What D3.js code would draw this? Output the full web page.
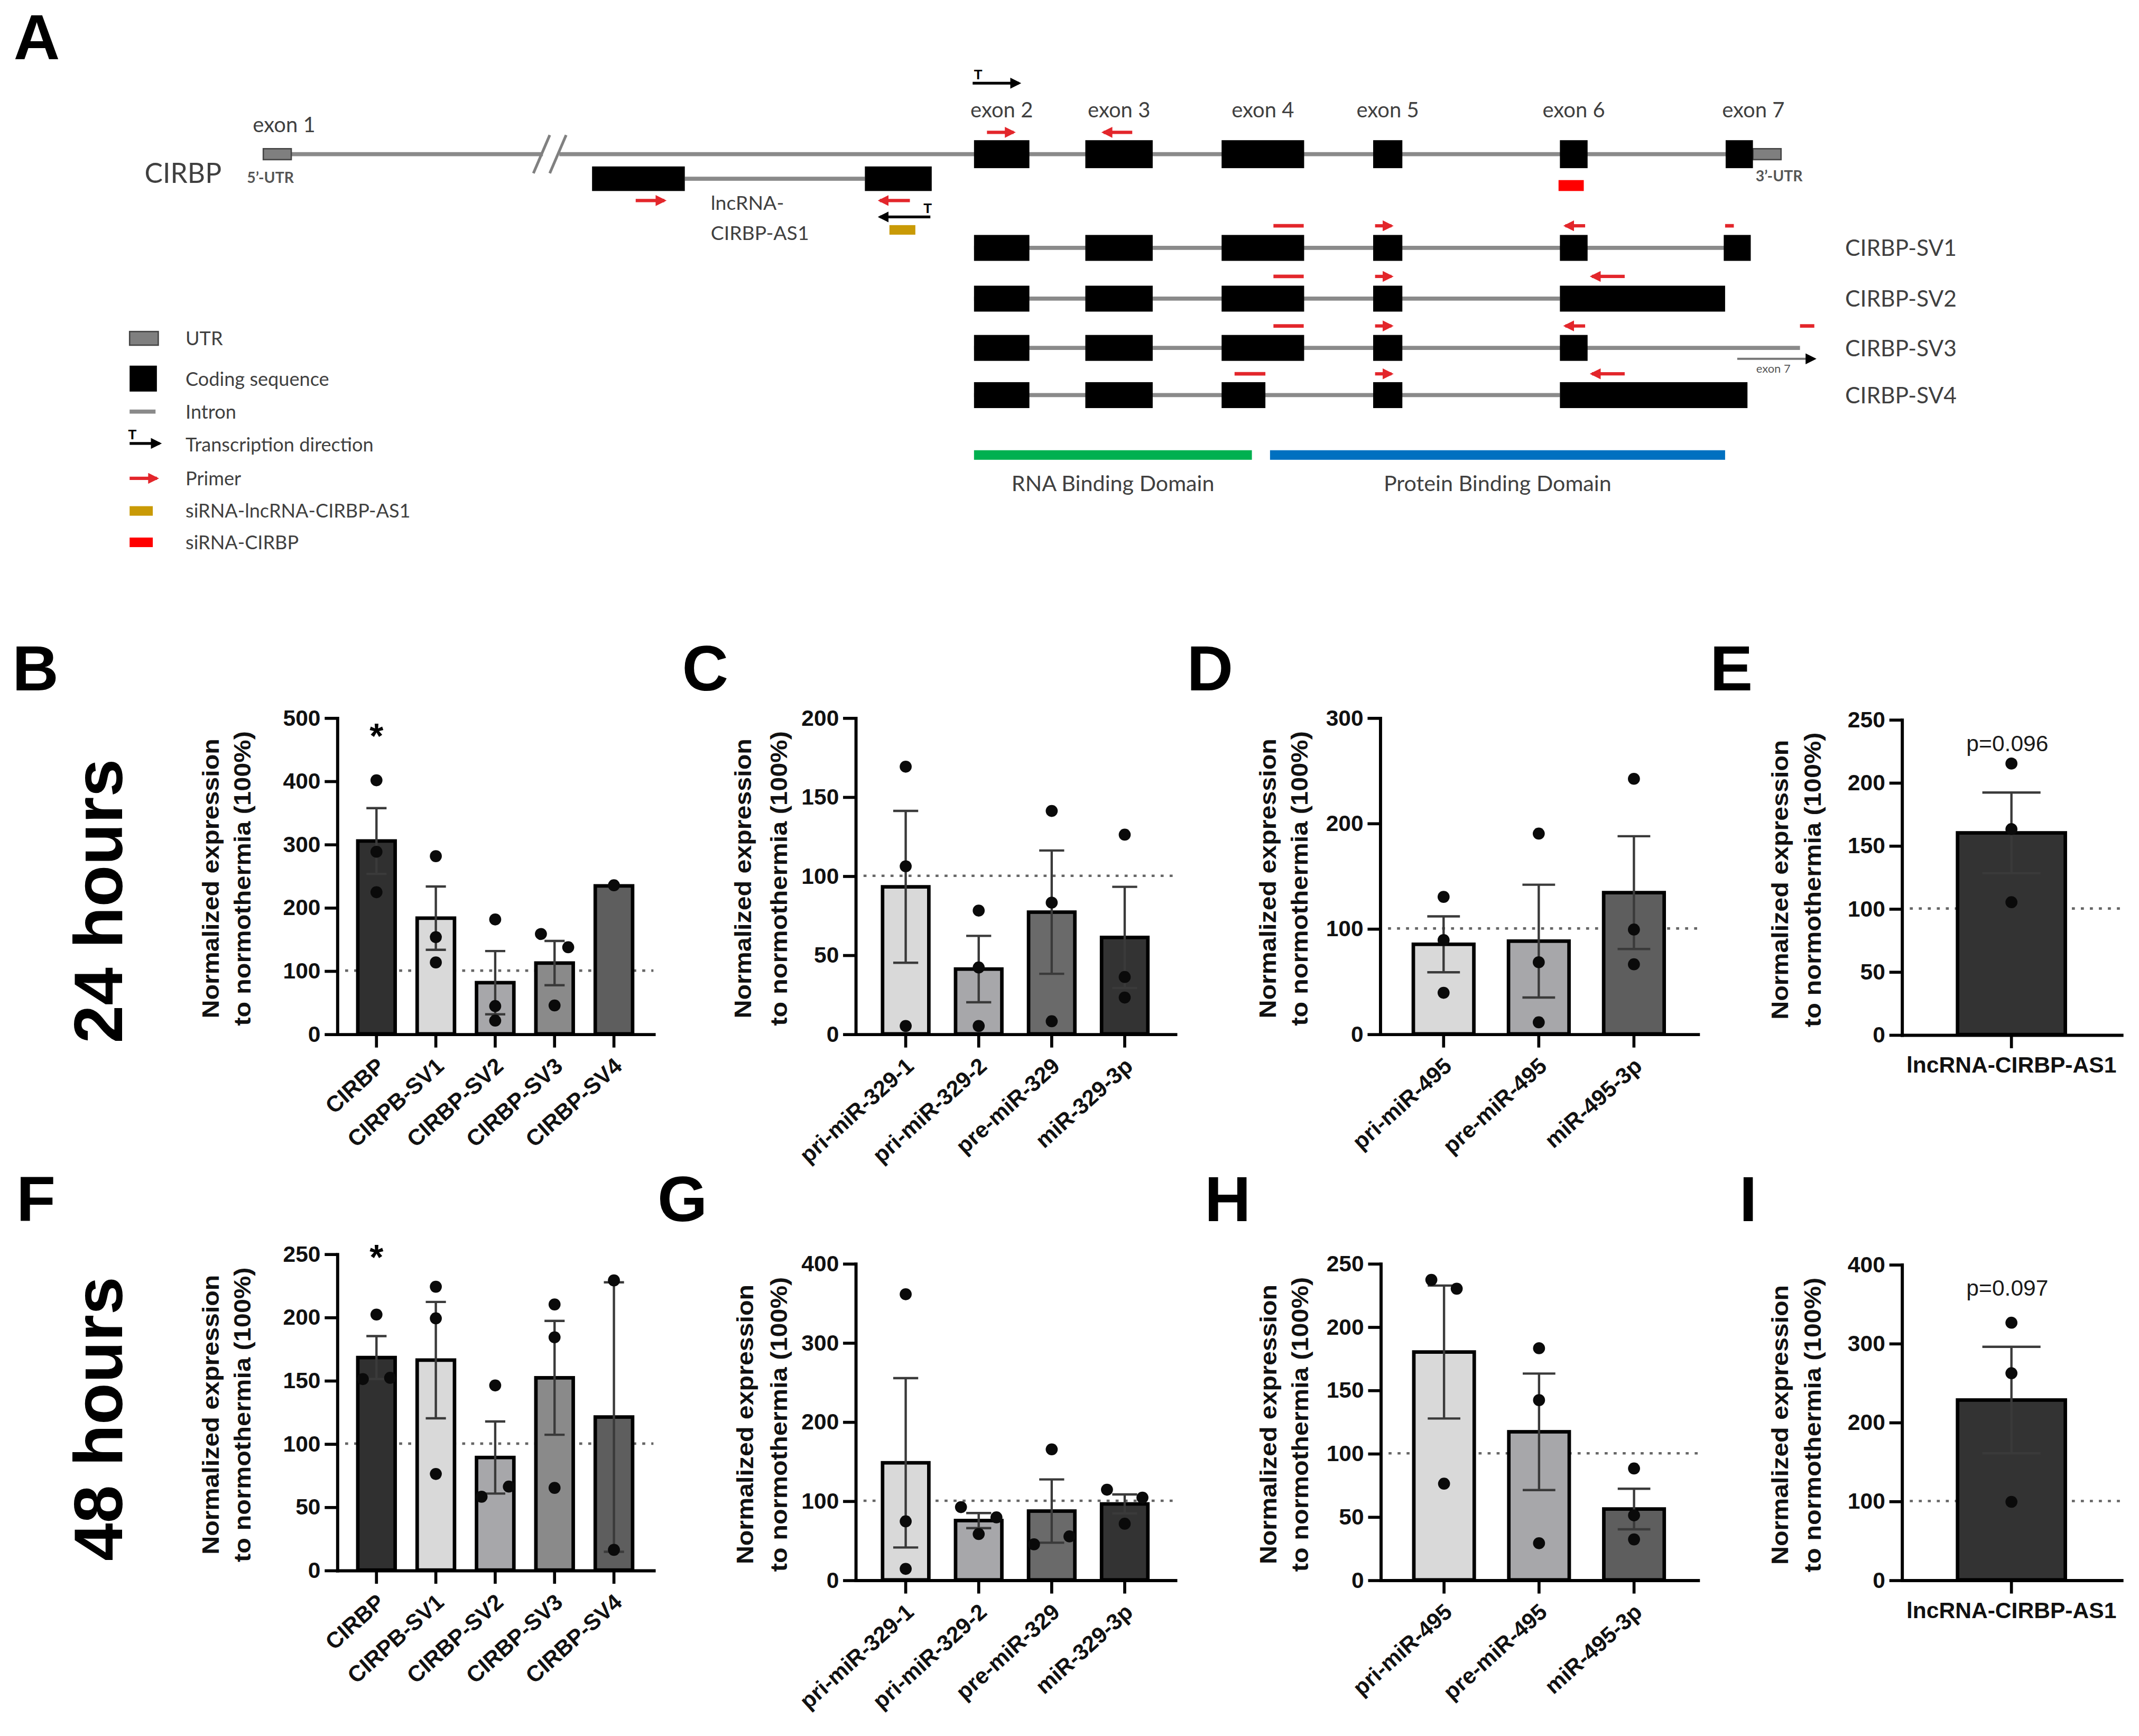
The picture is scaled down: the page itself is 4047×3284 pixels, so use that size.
<!DOCTYPE html>
<html><head><meta charset="utf-8">
<script src="https://cdn.jsdelivr.net/npm/d3@7"></script>
<style>body{margin:0;background:#fff}svg{display:block}</style>
</head><body>
<script>
// ================= DATA =================
// ---- Panel A : gene diagram (positions in relative gene units, 0 = start of exon 1) ----
const exonNames = ["exon 1","exon 2","exon 3","exon 4","exon 5","exon 6","exon 7"];
const cirbpUTR = [[3,23.5],[1095,1115.6]];
const cirbpExons = [[524,564.6],[605.6,655],[705.5,766],[816.6,838],[953.5,973.8],[1075,1095]];
const cirbpIntron = [[13,208],[220,1095]];
const cirbpBreak = [207,219];
const cirbpPrimers = [[533.5,553,1],[619,640,-1]];
const cirbpSiRNA = [952.5,971];
const lncName = ["lncRNA-","CIRBP-AS1"];
const lncExons = [[244,312],[444,493]];
const lncPrimers = [[276,297,1],[455,477,-1]];
const lncSiRNA = [462,481];
const isoformNames = ["CIRBP-SV1","CIRBP-SV2","CIRBP-SV3","CIRBP-SV4"];
const isoformExons = [
  [[524,564.6],[605.6,655],[705.5,766],[816.6,838],[953.5,973.8],[1073.6,1093.4]],
  [[524,564.6],[605.6,655],[705.5,766],[816.6,838],[953.5,1074.6]],
  [[524,564.6],[605.6,655],[705.5,766],[816.6,838],[953.5,973.8]],
  [[524,564.6],[605.6,655],[705.5,737.6],[816.6,838],[953.5,1091]]
];
const isoformSpan = [[524,1093],[524,953.5],[524,1129.5],[524,953.5]];
const isoformPrimers = [
  [[743.5,765.7,0],[818,830,1],[957.5,972,-1],[1074.6,1081,0]],
  [[743.5,765.7,0],[818,830,1],[977,1001,-1]],
  [[743.5,765.7,0],[818,830,1],[957.5,972,-1],[1129.5,1140,0]],
  [[715,737.6,0],[818,830,1],[977,1001,-1]]
];
const domainNames = ["RNA Binding Domain","Protein Binding Domain"];
const domainSpans = [[524,727.7],[741,1074.6]];
const legendLabels = ["UTR","Coding sequence","Intron","Transcription direction","Primer","siRNA-lncRNA-CIRBP-AS1","siRNA-CIRBP"];

// ---- Bar panels ----
const cirbpCategories = ["CIRBP","CIRPB-SV1","CIRBP-SV2","CIRBP-SV3","CIRBP-SV4"];
const mir329Categories = ["pri-miR-329-1","pri-miR-329-2","pre-miR-329","miR-329-3p"];
const mir495Categories = ["pri-miR-495","pre-miR-495","miR-495-3p"];
const lncCategories = ["lncRNA-CIRBP-AS1"];
const yTitle = ["Normalized expression","to normothermia (100%)"];
const timeLabels = ["24 hours","48 hours"];

const ticks500 = [0,100,200,300,400,500];
const ticks200 = [0,50,100,150,200];
const ticks300 = [0,100,200,300];
const ticks250 = [0,50,100,150,200,250];
const ticks400 = [0,100,200,300,400];

// 24 hours
const h24CirbpMean = [305,183,81,112,234];
const h24CirbpSem = [52,50,50,35,0];
const h24CirbpPoints = [[401,288,224],[281,153,113],[181,44,21],[158,137,45],[235]];
const h24CirbpStar = [480,null,null,null,null];

const h24Mir329Mean = [93,41,77,61];
const h24Mir329Sem = [48,21,39,32];
const h24Mir329Points = [[169,106,5],[78,42,5],[141,83,8],[126,36,23]];

const h24Mir495Mean = [85,88,134];
const h24Mir495Sem = [26.5,53.5,53.5];
const h24Mir495Points = [[130,89,39],[190,68,11],[242,99,66]];

const h24LncMean = [160];
const h24LncSem = [32];
const h24LncPoints = [[215,163,105]];
const h24LncP = "p=0.096";

// 48 hours
const h48CirbpMean = [168,166,89,152,121];
const h48CirbpSem = [17,46,28.5,45,106.5];
const h48CirbpPoints = [[202,151,152],[224,199,76],[146,58,66],[210,184,65],[229,16]];
const h48CirbpStar = [252,null,null,null,null];

const h48Mir329Mean = [148,75,87,96];
const h48Mir329Sem = [107,9.5,40,12];
const h48Mir329Points = [[361,74,14],[92,58,79],[165,45,55],[114,71,104]];

const h48Mir495Mean = [180,117,56];
const h48Mir495Sem = [52.5,46,16];
const h48Mir495Points = [[237,76,230],[183,142,29],[88,51,32]];

const h48LncMean = [228];
const h48LncSem = [67.5];
const h48LncPoints = [[326,262,99]];
const h48LncP = "p=0.097";

// ================= STYLE / LAYOUT =================
const W = 1568, H = 1272.4;
const FONT_CHART = "'Liberation Sans', Arial, Helvetica, sans-serif";
const FONT_DIAG = "Lato, 'Open Sans', 'Liberation Sans', sans-serif";
const DIAG_TEXT = "#404040";
const PRIMER_RED = "#e3262b";
const cirbpColors = ["#303030","#d9d9d9","#a7a7aa","#8a8a8a","#5e5e5e"];
const mir329Colors = ["#d9d9d9","#a7a7aa","#6a6a6a","#333333"];
const mir495Colors = ["#d9d9d9","#a7a7aa","#5e5e5e"];
const lncColors = ["#333333"];

const svg = d3.select("body").append("svg")
  .attr("width",4047).attr("height",3284).attr("viewBox",`0 0 ${W} ${H}`);
svg.append("rect").attr("width",W).attr("height",H).attr("fill","#fff");
const defs = svg.append("defs");
function marker(id,color,size){
  defs.append("marker").attr("id",id).attr("viewBox","0 0 10 10").attr("refX",8).attr("refY",5)
    .attr("markerWidth",size).attr("markerHeight",size).attr("markerUnits","userSpaceOnUse")
    .attr("orient","auto").append("path").attr("d","M0,0L10,5L0,10z").attr("fill",color);
}
marker("arrRed",PRIMER_RED,8);
marker("arrBlack","#000",8);

// ---- panel letters ----
const panelLetters = [["A",10,43.5],["B",9,506],["C",500,506],["D",870,506],["E",1253.5,506],
                      ["F",12,895],["G",482,895],["H",883,895],["I",1275,895]];
svg.selectAll("text.letter").data(panelLetters).join("text").attr("class","letter")
  .attr("x",d=>d[1]).attr("y",d=>d[2]).text(d=>d[0])
  .attr("font-family",FONT_CHART).attr("font-weight","bold").attr("font-size",47).attr("fill","#000");

// ================= PANEL A =================
const xA = d3.scaleLinear().domain([0,1140]).range([190,1330]);
const A = svg.append("g");
const rowMain = 113, rowLnc = 131, rowSV = [181.7,218.9,255,289.6];
const primerMain = 97, primerLnc = 147, primerSV = [165.5,202.6,238.9,274];

function boxes(g, spans, cy, h, fill, stroke){
  g.selectAll(null).data(spans).join("rect")
    .attr("x",d=>xA(d[0])).attr("width",d=>xA(d[1])-xA(d[0]))
    .attr("y",cy-h/2).attr("height",h).attr("fill",fill)
    .attr("stroke",stroke||"none").attr("stroke-width",1);
}
function intron(g, s, e, cy, w){
  g.append("line").attr("x1",xA(s)).attr("x2",xA(e)).attr("y1",cy).attr("y2",cy)
    .attr("stroke","#8a8a8a").attr("stroke-width",w||3);
}
function primers(g, list, cy){
  list.forEach(p=>{
    const [s,e,dir] = p;
    const l = g.append("line").attr("y1",cy).attr("y2",cy).attr("stroke",PRIMER_RED);
    if(dir===0){ l.attr("x1",xA(s)).attr("x2",xA(e)).attr("stroke-width",2.6); }
    else if(dir>0){ l.attr("x1",xA(s)).attr("x2",xA(e)).attr("stroke-width",2.4).attr("marker-end","url(#arrRed)"); }
    else { l.attr("x1",xA(e)).attr("x2",xA(s)).attr("stroke-width",2.4).attr("marker-end","url(#arrRed)"); }
  });
}
function tSymbol(g, x1, x2, y, tx){
  g.append("line").attr("x1",x1).attr("x2",x2).attr("y1",y).attr("y2",y)
    .attr("stroke","#000").attr("stroke-width",2).attr("marker-end","url(#arrBlack)");
  g.append("text").attr("x",tx).attr("y",y-3).text("T").attr("text-anchor","middle")
    .attr("font-family",FONT_CHART).attr("font-weight","bold").attr("font-size",10).attr("fill","#000");
}

// main CIRBP gene
cirbpIntron.forEach(s=>intron(A,s[0],s[1],rowMain,3));
cirbpBreak.forEach(b=>{
  A.append("line").attr("x1",xA(b)-6).attr("y1",rowMain+14).attr("x2",xA(b)+6).attr("y2",rowMain-14)
    .attr("stroke","#808080").attr("stroke-width",2);
});
boxes(A, cirbpUTR, rowMain, 8, "#7f7f7f", "#444");
boxes(A, cirbpExons, rowMain, 20.5, "#000");
primers(A, cirbpPrimers, primerMain);
A.append("rect").attr("x",xA(cirbpSiRNA[0])).attr("width",xA(cirbpSiRNA[1])-xA(cirbpSiRNA[0]))
  .attr("y",132).attr("height",8).attr("fill","#ff0000");
tSymbol(A, xA(523), xA(557), 61, xA(527));
A.append("text").attr("x",106).attr("y",134).text("CIRBP")
  .attr("font-family",FONT_DIAG).attr("font-size",20).attr("fill",DIAG_TEXT);
A.append("text").attr("x",xA(cirbpUTR[0][0])-12).attr("y",134).text("5\u2019-UTR")
  .attr("font-family",FONT_DIAG).attr("font-size",11).attr("font-weight","bold").attr("fill","#555");
A.append("text").attr("x",xA(cirbpUTR[1][0])+2).attr("y",133).text("3\u2019-UTR")
  .attr("font-family",FONT_DIAG).attr("font-size",11).attr("font-weight","bold").attr("fill","#555");
// exon labels
const exonLabelSpans = [cirbpUTR[0]].concat(cirbpExons.slice(0,5)).concat([[cirbpExons[5][0],cirbpUTR[1][1]]]);
A.selectAll(null).data(exonNames).join("text")
  .attr("x",(d,i)=>xA((exonLabelSpans[i][0]+exonLabelSpans[i][1])/2)+(i===0?5:0))
  .attr("y",(d,i)=>i===0?97:86).text(d=>d).attr("text-anchor","middle")
  .attr("font-family",FONT_DIAG).attr("font-size",15.5).attr("fill",DIAG_TEXT);

// lncRNA
intron(A, lncExons[0][1], lncExons[1][0], rowLnc, 3);
boxes(A, lncExons, rowLnc, 18, "#000");
primers(A, lncPrimers, primerLnc);
tSymbol(A, xA(492), xA(455), 159, xA(490));
A.append("rect").attr("x",xA(lncSiRNA[0])).attr("width",xA(lncSiRNA[1])-xA(lncSiRNA[0]))
  .attr("y",165).attr("height",7).attr("fill","#c99a06");
A.selectAll(null).data(lncName).join("text").attr("x",521).attr("y",(d,i)=>154+i*22).text(d=>d)
  .attr("font-family",FONT_DIAG).attr("font-size",14.5).attr("fill",DIAG_TEXT);

// isoforms
isoformNames.forEach((name,k)=>{
  const cy = rowSV[k];
  intron(A, isoformSpan[k][0], isoformSpan[k][1], cy, 3);
  boxes(A, isoformExons[k], cy, 19, "#000");
  primers(A, isoformPrimers[k], primerSV[k]);
  A.append("text").attr("x",1352.6).attr("y",cy+6).text(name)
    .attr("font-family",FONT_DIAG).attr("font-size",16.5).attr("fill",DIAG_TEXT);
});
// exon 7 arrow under SV3
A.append("line").attr("x1",xA(1083.5)).attr("x2",xA(1140)).attr("y1",263).attr("y2",263)
  .attr("stroke","#777").attr("stroke-width",1.5).attr("marker-end","url(#arrBlack)");
A.append("text").attr("x",xA(1110)).attr("y",273).text("exon 7").attr("text-anchor","middle")
  .attr("font-family",FONT_DIAG).attr("font-size",8.5).attr("fill","#555");

// domains
const domainColors = ["#00b050","#0070c0"];
domainSpans.forEach((d,i)=>{
  A.append("rect").attr("x",xA(d[0])).attr("width",xA(d[1])-xA(d[0])).attr("y",330).attr("height",7)
    .attr("fill",domainColors[i]);
  A.append("text").attr("x",xA((d[0]+d[1])/2)).attr("y",360).text(domainNames[i]).attr("text-anchor","middle")
    .attr("font-family",FONT_DIAG).attr("font-size",16).attr("fill",DIAG_TEXT);
});

// legend
const legY = [248,278,301.7,326,350.6,374.5,397.5];
const L = svg.append("g");
L.append("rect").attr("x",95).attr("y",243).attr("width",21).attr("height",10).attr("fill","#7f7f7f").attr("stroke","#444");
L.append("rect").attr("x",95).attr("y",268).attr("width",20).attr("height",19).attr("fill","#000");
L.append("line").attr("x1",95).attr("x2",114).attr("y1",301.7).attr("y2",301.7).attr("stroke","#8a8a8a").attr("stroke-width",3);
tSymbol(L, 95, 117, 325, 97);
L.append("line").attr("x1",95).attr("x2",115).attr("y1",350.6).attr("y2",350.6).attr("stroke",PRIMER_RED)
  .attr("stroke-width",2.4).attr("marker-end","url(#arrRed)");
L.append("rect").attr("x",95).attr("y",371).attr("width",17).attr("height",7).attr("fill","#c99a06");
L.append("rect").attr("x",95).attr("y",394).attr("width",17).attr("height",7).attr("fill","#ff0000");
L.selectAll("text.leg").data(legendLabels).join("text").attr("class","leg")
  .attr("x",136).attr("y",(d,i)=>legY[i]+5).text(d=>d)
  .attr("font-family",FONT_DIAG).attr("font-size",14).attr("fill",DIAG_TEXT);

// ================= BAR PANELS =================
function jitterOffsets(vals, y, threshold, spread){
  const off = vals.map(()=>0);
  const idx = vals.map((v,i)=>i).sort((a,b)=>vals[a]-vals[b]);
  let cluster = [idx[0]];
  const flush = ()=>{
    if(cluster.length>1){
      const ord = cluster.slice().sort((a,b)=>a-b), n = ord.length;
      ord.forEach((k,j)=>{ off[k] = (j-(n-1)/2)*2*spread/(n-1); });
    }
  };
  for(let j=1;j<idx.length;j++){
    if(Math.abs(y(vals[idx[j]])-y(vals[idx[j-1]]))<threshold) cluster.push(idx[j]);
    else { flush(); cluster=[idx[j]]; }
  }
  flush();
  return off;
}

function drawBarPanel(cfg){
  const {cats, mean, sem, points, ticks, colors, geo} = cfg;
  const g = svg.append("g");
  const yMax = ticks[ticks.length-1];
  const x = d3.scaleBand().domain(cats).range([geo.x0,geo.x1]).paddingInner(geo.pi).paddingOuter(geo.po);
  const y = d3.scaleLinear().domain([0,yMax]).range([geo.yZero,geo.yTop]);
  const bw = x.bandwidth();
  const rows = cats.map((c,i)=>({c, m:mean[i], s:sem[i], pts:points[i], color:colors[i], star:cfg.star?cfg.star[i]:null}));
  const cx = d=>x(d.c)+bw/2;

  // 100% reference line
  g.append("line").attr("x1",geo.x0+6).attr("x2",geo.x1).attr("y1",y(100)).attr("y2",y(100))
    .attr("stroke","#666").attr("stroke-width",1.8).attr("stroke-dasharray","2.2,4.4");

  // bars
  g.selectAll("rect.bar").data(rows).join("rect").attr("class","bar")
    .attr("x",d=>x(d.c)).attr("y",d=>y(d.m)).attr("width",bw).attr("height",d=>y(0)-y(d.m))
    .attr("fill",d=>d.color).attr("stroke","#000").attr("stroke-width",2.6);

  // error bars (mean ± SEM)
  const cap = bw*0.27;
  const eg = g.selectAll("g.err").data(rows.filter(d=>d.s>0)).join("g").attr("class","err")
    .attr("stroke","#3a3a3a").attr("stroke-width",1.7);
  eg.append("line").attr("x1",cx).attr("x2",cx).attr("y1",d=>y(d.m-d.s)).attr("y2",d=>y(d.m+d.s));
  eg.append("line").attr("x1",d=>cx(d)-cap).attr("x2",d=>cx(d)+cap).attr("y1",d=>y(d.m+d.s)).attr("y2",d=>y(d.m+d.s));
  eg.append("line").attr("x1",d=>cx(d)-cap).attr("x2",d=>cx(d)+cap).attr("y1",d=>y(d.m-d.s)).attr("y2",d=>y(d.m-d.s));

  // individual points
  rows.forEach(d=>{
    const off = jitterOffsets(d.pts, y, 10, geo.spread||10);
    g.selectAll(null).data(d.pts).join("circle")
      .attr("cx",(v,i)=>cx(d)+off[i]).attr("cy",v=>y(v)).attr("r",4.4).attr("fill","#0a0a0a");
  });

  // significance
  g.selectAll("text.star").data(rows.filter(d=>d.star!=null)).join("text").attr("class","star")
    .attr("x",cx).attr("y",d=>y(d.star)+13).text("*").attr("text-anchor","middle")
    .attr("font-family",FONT_CHART).attr("font-weight","bold").attr("font-size",26).attr("fill","#000");
  if(cfg.pLabel){
    g.append("text").attr("x",cx(rows[0])-3).attr("y",y(yMax*0.9)).text(cfg.pLabel).attr("text-anchor","middle")
      .attr("font-family",FONT_CHART).attr("font-size",16.5).attr("fill","#1a1a1a");
  }

  // y axis
  const ga = g.append("g").attr("transform",`translate(${geo.x0},0)`)
    .call(d3.axisLeft(y).tickValues(ticks).tickSize(9).tickSizeOuter(0).tickPadding(3));
  ga.select(".domain").attr("stroke","#000").attr("stroke-width",2.3).attr("stroke-linecap","square");
  ga.selectAll(".tick line").attr("stroke","#000").attr("stroke-width",2.2);
  ga.selectAll(".tick text").attr("font-family",FONT_CHART).attr("font-weight","bold")
    .attr("font-size",16.5).attr("fill","#111");

  // x axis
  const gx = g.append("g").attr("transform",`translate(0,${geo.yZero})`)
    .call(d3.axisBottom(x).tickSize(10).tickSizeOuter(0));
  gx.select(".domain").attr("stroke","#000").attr("stroke-width",2.3).attr("stroke-linecap","square");
  gx.selectAll(".tick line").attr("stroke","#000").attr("stroke-width",2.2);
  const tx = gx.selectAll(".tick text").attr("font-family",FONT_CHART).attr("font-weight","bold")
    .attr("font-size",16.5).attr("fill","#111");
  if(cfg.horizontal){
    tx.attr("y",28).attr("dy",null).attr("text-anchor","middle");
  } else {
    tx.attr("x",null).attr("y",null).attr("dy",null).attr("text-anchor","end")
      .attr("transform","translate(7,25) rotate(-42)");
  }

  // y title
  const midY = (geo.yZero+geo.yTop)/2 + 2;
  [geo.t1, geo.t2].forEach((tx0,i)=>{
    g.append("text").attr("transform",`translate(${tx0},${midY}) rotate(-90)`)
      .attr("dy","0.35em").attr("text-anchor","middle").text(yTitle[i])
      .attr("textLength", i===0?205:216).attr("lengthAdjust","spacingAndGlyphs")
      .attr("font-family",FONT_CHART).attr("font-weight","bold").attr("font-size",17).attr("fill","#111");
  });
}

const geoB = {x0:247, x1:479, yZero:757.8, yTop:526, pi:0.371, po:0.351, spread:10, t1:154.5, t2:177.6};
const geoC = {x0:627, x1:861.4, yZero:757.8, yTop:526, pi:0.366, po:0.373, spread:13, t1:544.8, t2:570.8};
const geoD = {x0:1011.5, x1:1244.5, yZero:757.8, yTop:526, pi:0.364, po:0.352, spread:9.3, t1:929.2, t2:952.5};
const geoE = {x0:1394, x1:1555, yZero:758.3, yTop:527.3, pi:0, po:0.519, spread:10, t1:1304.7, t2:1329};
const geoF = {x0:247, x1:479, yZero:1150.8, yTop:919, pi:0.371, po:0.351, spread:10, t1:154.5, t2:177.6};
const geoG = {x0:627, x1:861.4, yZero:1158, yTop:926, pi:0.366, po:0.373, spread:13, t1:546, t2:570.8};
const geoH = {x0:1011.9, x1:1244.5, yZero:1158, yTop:926, pi:0.364, po:0.352, spread:9.3, t1:929.6, t2:953};
const geoI = {x0:1394, x1:1555, yZero:1158, yTop:926.7, pi:0, po:0.519, spread:10, t1:1304.7, t2:1329};

drawBarPanel({cats:cirbpCategories, mean:h24CirbpMean, sem:h24CirbpSem, points:h24CirbpPoints, ticks:ticks500, colors:cirbpColors, geo:geoB, star:h24CirbpStar});
drawBarPanel({cats:mir329Categories, mean:h24Mir329Mean, sem:h24Mir329Sem, points:h24Mir329Points, ticks:ticks200, colors:mir329Colors, geo:geoC});
drawBarPanel({cats:mir495Categories, mean:h24Mir495Mean, sem:h24Mir495Sem, points:h24Mir495Points, ticks:ticks300, colors:mir495Colors, geo:geoD});
drawBarPanel({cats:lncCategories, mean:h24LncMean, sem:h24LncSem, points:h24LncPoints, ticks:ticks250, colors:lncColors, geo:geoE, horizontal:true, pLabel:h24LncP});
drawBarPanel({cats:cirbpCategories, mean:h48CirbpMean, sem:h48CirbpSem, points:h48CirbpPoints, ticks:ticks250, colors:cirbpColors, geo:geoF, star:h48CirbpStar});
drawBarPanel({cats:mir329Categories, mean:h48Mir329Mean, sem:h48Mir329Sem, points:h48Mir329Points, ticks:ticks400, colors:mir329Colors, geo:geoG});
drawBarPanel({cats:mir495Categories, mean:h48Mir495Mean, sem:h48Mir495Sem, points:h48Mir495Points, ticks:ticks250, colors:mir495Colors, geo:geoH});
drawBarPanel({cats:lncCategories, mean:h48LncMean, sem:h48LncSem, points:h48LncPoints, ticks:ticks400, colors:lncColors, geo:geoI, horizontal:true, pLabel:h48LncP});

// time labels
svg.selectAll("text.time").data(timeLabels).join("text").attr("class","time")
  .attr("transform",(d,i)=>`translate(89.6,${i===0?660.5:1040}) rotate(-90)`)
  .attr("text-anchor","middle").text(d=>d)
  .attr("font-family",FONT_CHART).attr("font-weight","bold").attr("font-size",50).attr("fill","#000");
</script>
</body></html>
